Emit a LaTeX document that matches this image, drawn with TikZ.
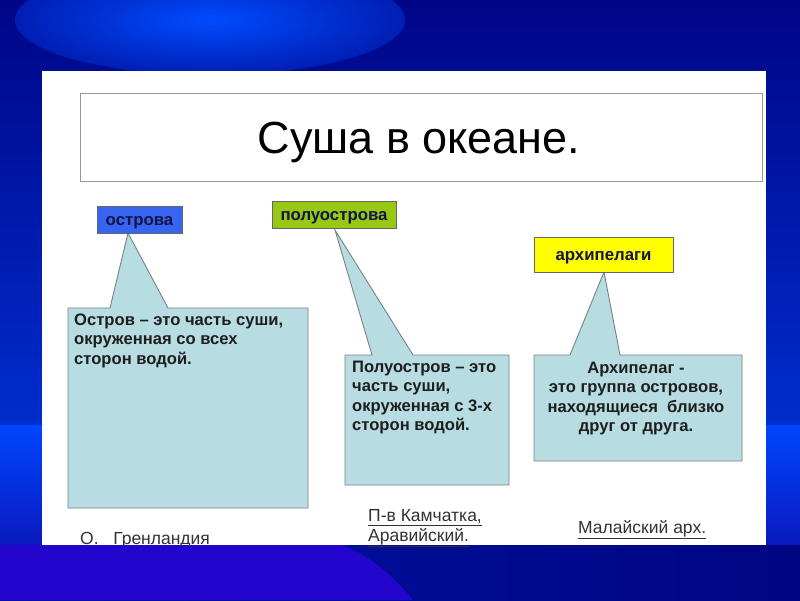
\documentclass[tikz,border=0pt]{standalone}
\usepackage{fontspec}
\setmainfont{Liberation Sans}
\definecolor{navytop}{RGB}{0,5,135}
\definecolor{bluemid}{RGB}{0,45,205}
\definecolor{bandtop}{RGB}{0,70,255}
\definecolor{bandbot}{RGB}{10,25,190}
\definecolor{purplebg}{RGB}{35,5,205}
\definecolor{darkbot1}{RGB}{0,20,165}
\definecolor{darkbot2}{RGB}{0,5,130}
\definecolor{glowin}{RGB}{0,75,255}
\definecolor{glowout}{RGB}{0,30,180}
\definecolor{calloutfill}{RGB}{183,221,226}
\definecolor{calloutdraw}{RGB}{120,130,130}
\definecolor{lblblue}{RGB}{55,100,240}
\definecolor{lblgreen}{RGB}{150,200,20}
\definecolor{lblyellow}{RGB}{255,255,0}
\definecolor{txtdark}{RGB}{30,30,30}
\definecolor{txtnavy}{RGB}{20,20,70}
\definecolor{txtgrey}{RGB}{50,50,50}
\tikzset{
  callout/.style={fill=calloutfill, draw=calloutdraw, line width=0.9pt, line join=miter},
  lblbox/.style={draw=black!60, line width=0.9pt, inner sep=0pt, anchor=north west},
  lbltext/.style={font=\bfseries\fontsize{16.8}{19}\selectfont, text=txtnavy, inner sep=0pt, anchor=base},
  bodytext/.style={font=\bfseries\fontsize{16.6}{19.2}\selectfont, text=txtdark, inner sep=0pt},
  bottomtext/.style={font=\fontsize{17.5}{20}\selectfont, text=txtgrey, inner sep=0pt, align=left}
}
\begin{document}
\begin{tikzpicture}[x=1pt,y=-1pt]
\useasboundingbox (0,0) rectangle (800,600);
% background
\fill[navytop] (0,0) rectangle (800,600);
\shade[top color=navytop, bottom color=bluemid] (0,0) rectangle (800,425);
\shade[inner color=glowin, outer color=glowout] (210,20) ellipse [x radius=195, y radius=55];
\shade[top color=bandtop, bottom color=bandbot] (0,425) rectangle (800,545);
\shade[left color=darkbot1, right color=darkbot2] (0,545) rectangle (800,600);
\fill[purplebg] (0,545) -- (343,545) .. controls (375,558) and (398,582) .. (413,600) -- (0,600) -- cycle;
% white panel
\fill[white] (42,71) rectangle (766,545);
% title
\node[draw=black!40, line width=1.2pt, fill=white, minimum width=682pt, minimum height=88pt, anchor=north west, inner sep=0pt] (title) at (80,93) {};
\node[font=\fontsize{45}{50}\selectfont, inner sep=0pt, anchor=base] (titletext) at (419,153) {Суша в океане.};
% callouts
\fill[callout] (68,308) -- (110,308) -- (128,233) -- (168,308) -- (308,308) -- (308,508) -- (68,508) -- cycle;
\fill[callout] (345,355) -- (372,355) -- (335,230) -- (413,355) -- (509,355) -- (509,485) -- (345,485) -- cycle;
\fill[callout] (534,355) -- (570,355) -- (604,272) -- (620,355) -- (742,355) -- (742,461) -- (534,461) -- cycle;
% label boxes
\node[lblbox, fill=lblblue, minimum width=85pt, minimum height=27pt] (ostrova) at (97,206) {};
\node[lbltext] (ostrovaT) at (139.5,225) {острова};
\node[lblbox, fill=lblgreen, minimum width=124pt, minimum height=27pt] (poluostrova) at (272,201) {};
\node[lbltext] (poluostrovaT) at (334,220) {полуострова};
\node[lblbox, fill=lblyellow, minimum width=139pt, minimum height=35pt] (arhipelagi) at (534,237) {};
\node[lbltext] (arhipelagiT) at (603.5,260.5) {архипелаги};
% body texts
\node[bodytext, anchor=north west, align=left] (t1) at (74,314) {Остров -- это часть суши,\\окруженная со всех\\сторон водой.};
\node[bodytext, anchor=north west, align=left] (t2) at (352,361) {Полуостров -- это\\часть суши,\\окруженная с 3-х\\сторон водой.};
\node[bodytext, anchor=north, align=center] (t3) at (636,362) {Архипелаг -\\это группа островов,\\находящиеся\ \ близко\\друг от друга.};
% bottom texts
\begin{scope}
\clip (42,71) rectangle (766,545);
\node[bottomtext, anchor=north west] (grenl) at (80,532) {О.\ \ \ Гренландия};
\end{scope}
\node[bottomtext, anchor=north west] (kamch) at (368,509) {\underline{П-в Камчатка,}\\\underline{Аравийский.}};
\node[bottomtext, anchor=north west] (malay) at (578,520) {\underline{Малайский арх.}};
\end{tikzpicture}
\end{document}
